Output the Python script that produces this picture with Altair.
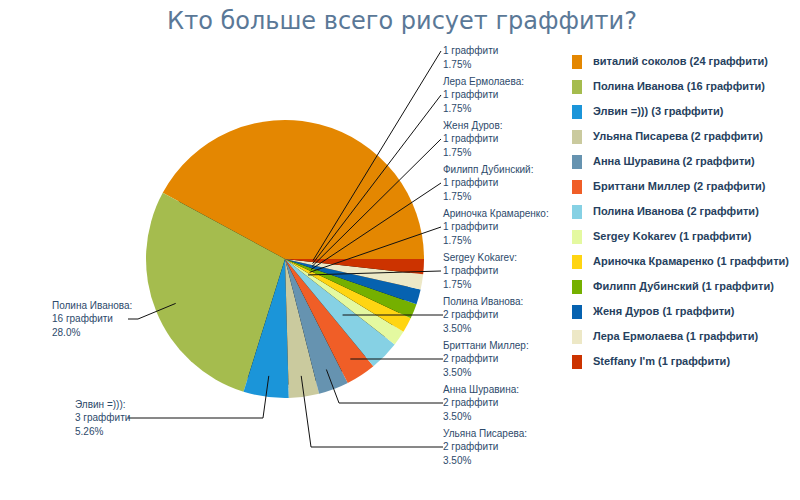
import math
import altair as alt
import pandas as pd

# ---------------- data ----------------
names = ["виталий соколов", "Полина Иванова", "Элвин =)))", "Ульяна Писарева",
         "Анна Шуравина", "Бриттани Миллер", "Полина Иванова", "Sergey Kokarev",
         "Ариночка Крамаренко", "Филипп Дубинский", "Женя Дуров", "Лера Ермолаева",
         "Steffany I'm"]
counts = [24, 16, 3, 2, 2, 2, 2, 1, 1, 1, 1, 1, 1]
colors = ["#E48701", "#A5BC4E", "#1B95D9", "#CACA9E", "#6693B0", "#F05E27",
          "#86D1E4", "#E4F9A0", "#FFD512", "#75B000", "#0662B0", "#EDE8C6", "#CC3300"]
title_text = "Кто больше всего рисует граффити?"
unit = "граффити"

# ---------------- layout ----------------
W, H = 784, 484
CX, CY, R = 285, 259, 139
xs = alt.Scale(domain=[8, 8 + W], nice=False, zero=False)
ys = alt.Scale(domain=[8, 8 + H], nice=False, zero=False, reverse=True)

total = sum(counts)
keys = [f"s{i}" for i in range(len(names))]


def pct_str(c):
    p = c / total * 100
    d = 2 - int(math.floor(math.log10(p)))
    v = math.floor(p * 10 ** d) / 10 ** d
    return f"{v:.{max(d,0)}f}%"


# slice mid angles (clockwise from 3 o'clock), the pie starts with the last item
order_rev = list(range(len(names)))[::-1]
mid = {}
acc = 0
for i in order_rev:
    mid[i] = (acc + counts[i] / 2) / total * 2 * math.pi
    acc += counts[i]

# label layout: (slice index, text x, middle-line y, mode, inner radius, elbow, show name, line end x)
LH = 13.5
right = [12, 11, 10, 9, 8, 7, 6, 5, 4, 3]
labels = []
for k, i in enumerate(right):
    y = 51 + 44 * k
    if k < 6:
        labels.append((i, 443, y, "r", 28, None, k > 0, 441))
    elif k < 8:
        labels.append((i, 443, y, "h", None, None, True, 443))
    else:
        labels.append((i, 443, y, "r", 118, "elbow", True, 443))
labels.append((1, 52, 319, "r", 118, (138, 319), True, 128))
labels.append((2, 75, 418, "r", 118, (263, 418), True, 128))

elbows_right = {4: (339, 403), 3: (311, 447)}

text_rows, seg_rows = [], []
for (i, tx, ty, mode, rin, elbow, show_name, ex) in labels:
    a = mid[i]
    if mode == "h":
        rin = (ty - CY) / math.sin(a)
    px, py = CX + rin * math.cos(a), CY + rin * math.sin(a)
    if show_name:
        text_rows.append({"x": tx, "y": ty - LH, "t": names[i] + ":"})
    text_rows.append({"x": tx, "y": ty, "t": f"{counts[i]} {unit}"})
    text_rows.append({"x": tx, "y": ty + LH, "t": pct_str(counts[i])})
    if elbow == "elbow":
        elbow = elbows_right[i]
    if elbow is None:
        seg_rows.append({"x": px, "y": py, "x2": ex, "y2": ty})
    else:
        seg_rows.append({"x": px, "y": py, "x2": elbow[0], "y2": elbow[1]})
        seg_rows.append({"x": elbow[0], "y": elbow[1], "x2": ex, "y2": ty})

pie_df = pd.DataFrame({"key": keys, "name": names, "count": counts,
                       "idx": list(range(len(names)))})
text_df = pd.DataFrame(text_rows)
seg_df = pd.DataFrame(seg_rows)
leg_df = pd.DataFrame({
    "label": [f"{n} ({c} {unit})" for n, c in zip(names, counts)],
    "key": keys,
    "yc": [62 + 25 * k for k in range(len(names))],
})
leg_df["y0"] = leg_df["yc"] - 7
leg_df["y1"] = leg_df["yc"] + 7
leg_df["x0"] = 572
leg_df["x1"] = 582
leg_df["tx"] = 593
one = pd.DataFrame({"a": [0]})

colscale = alt.Scale(domain=keys, range=colors)

shadow_soft = alt.Chart(one).mark_circle(color="#888888", opacity=0.45, size=math.pi * 141 ** 2).encode(
    x=alt.XDatum(CX + 4, scale=xs, axis=None), y=alt.YDatum(CY + 4, scale=ys, axis=None))
shadow_dark = alt.Chart(one).mark_circle(color="#000000", opacity=1, size=math.pi * 139.5 ** 2).encode(
    x=alt.XDatum(CX + 2, scale=xs, axis=None), y=alt.YDatum(CY + 2, scale=ys, axis=None))

pie = alt.Chart(pie_df).mark_arc(radius=R).encode(
    theta=alt.Theta("count:Q", stack=True,
                    scale=alt.Scale(range=[math.pi / 2, math.pi / 2 + 2 * math.pi])),
    color=alt.Color("key:N", scale=colscale, legend=None),
    order=alt.Order("idx:Q", sort="descending"),
    x=alt.XDatum(CX, scale=xs, axis=None),
    y=alt.YDatum(CY, scale=ys, axis=None),
)

segs = alt.Chart(seg_df).mark_rule(color="#111111", strokeWidth=1).encode(
    x=alt.X("x:Q", scale=xs, axis=None), y=alt.Y("y:Q", scale=ys, axis=None),
    x2="x2:Q", y2="y2:Q")

texts = alt.Chart(text_df).mark_text(align="left", baseline="middle", font="Liberation Sans",
                                     fontSize=10, color="#2d4a6b").encode(
    x=alt.X("x:Q", scale=xs, axis=None), y=alt.Y("y:Q", scale=ys, axis=None), text="t:N")

leg_sq = alt.Chart(leg_df).mark_rect().encode(
    x=alt.X("x0:Q", scale=xs, axis=None), x2="x1:Q",
    y=alt.Y("y0:Q", scale=ys, axis=None), y2="y1:Q",
    color=alt.Color("key:N", scale=colscale, legend=None))

leg_tx = alt.Chart(leg_df).mark_text(align="left", baseline="middle", font="Liberation Sans",
                                     fontWeight="bold", fontSize=11, color="#263f5e").encode(
    x=alt.X("tx:Q", scale=xs, axis=None), y=alt.Y("yc:Q", scale=ys, axis=None), text="label:N")

title = alt.Chart(one).mark_text(align="center", baseline="middle", font="DejaVu Sans",
                                 fontSize=24, color="#5a7897", text=title_text).encode(
    x=alt.XDatum(402, scale=xs, axis=None), y=alt.YDatum(22, scale=ys, axis=None))

chart = alt.layer(shadow_soft, shadow_dark, pie, segs, texts, leg_sq, leg_tx, title).properties(
    width=W, height=H, padding=0, autosize="none", background="white"
).configure_view(stroke=None)

chart.save("out.html", embed_options={"renderer": "svg", "actions": False})
